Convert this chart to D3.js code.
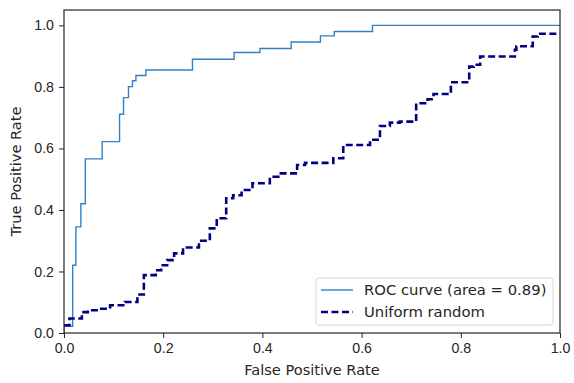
<!DOCTYPE html>
<html>
<head>
<meta charset="utf-8">
<script src="https://cdn.jsdelivr.net/npm/d3@7"></script>
<style>
  html, body { margin: 0; padding: 0; background: #fff; }
  svg { display: block; font-family: "DejaVu Sans", sans-serif; }
  .tick text { font-size: 14.2px; fill: #262626; }
  .tick line { stroke: #262626; }
</style>
</head>
<body>
<div id="chart"></div>
<script>
// ROC curve: fpr where the step happens, tpr after the step
const rocFpr = [0, 0, 0.0175, 0.024, 0.034, 0.043, 0.077, 0.112, 0.120, 0.130, 0.138, 0.145, 0.165, 0.259, 0.343, 0.395, 0.458, 0.517, 0.545, 0.622, 1.0];
const rocTpr = [0, 0.022, 0.22, 0.345, 0.42, 0.566, 0.622, 0.711, 0.765, 0.801, 0.820, 0.837, 0.855, 0.890, 0.912, 0.925, 0.946, 0.966, 0.980, 1.0, 1.0];

// uniform random scores
const randFpr = [0, 0.011, 0.036, 0.048, 0.072, 0.093, 0.123, 0.148, 0.161, 0.185, 0.196, 0.208, 0.222, 0.240, 0.272, 0.294, 0.308, 0.327, 0.341, 0.358, 0.380, 0.415, 0.432, 0.470, 0.486, 0.543, 0.563, 0.617, 0.637, 0.657, 0.677, 0.710, 0.733, 0.745, 0.780, 0.817, 0.826, 0.839, 0.909, 0.912, 0.945, 0.955, 1.0];
const randTpr = [0.025, 0.047, 0.068, 0.074, 0.079, 0.090, 0.101, 0.125, 0.188, 0.204, 0.220, 0.237, 0.259, 0.278, 0.300, 0.340, 0.373, 0.438, 0.448, 0.465, 0.487, 0.508, 0.519, 0.546, 0.553, 0.568, 0.611, 0.628, 0.673, 0.684, 0.687, 0.747, 0.760, 0.777, 0.815, 0.866, 0.872, 0.899, 0.921, 0.932, 0.964, 0.973, 0.973];

const xTicks = [0, 0.2, 0.4, 0.6, 0.8, 1.0];
const yTicks = [0, 0.2, 0.4, 0.6, 0.8, 1.0];
const seriesNames = ['ROC curve (area = 0.89)', 'Uniform random'];

const width = 574, height = 383;
const margin = { top: 10, right: 14, bottom: 50, left: 64 };

const svg = d3.select('#chart').append('svg')
  .attr('width', width)
  .attr('height', height);

const x = d3.scaleLinear().domain([0, 1]).range([margin.left, width - margin.right]);
const y = d3.scaleLinear().domain([0, 1.05]).range([height - margin.bottom, margin.top]);

const line = d3.line()
  .x(d => x(d[0]))
  .y(d => y(d[1]))
  .curve(d3.curveStepAfter);

const plotW = x(1) - x(0);
const plotH = y(0) - y(1.05);

svg.append('clipPath').attr('id', 'clip')
  .append('rect')
  .attr('x', x(0)).attr('y', y(1.05))
  .attr('width', plotW).attr('height', plotH);

const plot = svg.append('g').attr('clip-path', 'url(#clip)');

plot.append('path')
  .datum(d3.zip(rocFpr, rocTpr))
  .attr('fill', 'none')
  .attr('stroke', '#2f82c8')
  .attr('stroke-width', 1.4)
  .attr('d', line);

plot.append('path')
  .datum(d3.zip(randFpr, randTpr))
  .attr('fill', 'none')
  .attr('stroke', '#000080')
  .attr('stroke-width', 2.6)
  .attr('stroke-dasharray', '7,3.5')
  .attr('d', line);

// axes
const fmt = d3.format('.1f');
svg.append('g')
  .attr('transform', `translate(0,${y(0)})`)
  .call(d3.axisBottom(x).tickValues(xTicks).tickFormat(fmt).tickSize(5).tickPadding(5))
  .call(g => g.select('.domain').remove());

svg.append('g')
  .attr('transform', `translate(${x(0)},0)`)
  .call(d3.axisLeft(y).tickValues(yTicks).tickFormat(fmt).tickSize(5).tickPadding(5))
  .call(g => g.select('.domain').remove());

// frame
svg.append('rect')
  .attr('x', x(0)).attr('y', y(1.05))
  .attr('width', plotW).attr('height', plotH)
  .attr('fill', 'none')
  .attr('stroke', '#262626')
  .attr('stroke-width', 1.2);

// axis labels
svg.append('text')
  .attr('x', (x(0) + x(1)) / 2)
  .attr('y', 375)
  .attr('text-anchor', 'middle')
  .style('font-size', '14.6px')
  .style('fill', '#262626')
  .text('False Positive Rate');

svg.append('text')
  .attr('transform', `translate(21,${(y(0) + y(1.05)) / 2}) rotate(-90)`)
  .attr('text-anchor', 'middle')
  .style('font-size', '14.6px')
  .style('fill', '#262626')
  .text('True Positive Rate');

// legend
const legend = svg.append('g').attr('transform', 'translate(316,278)');
legend.append('rect')
  .attr('width', 237).attr('height', 47)
  .attr('rx', 3)
  .attr('fill', '#fff')
  .attr('fill-opacity', 0.8)
  .attr('stroke', '#d6d6d6');

const legendStyles = [
  { stroke: '#2f82c8', w: 1.4, dash: null },
  { stroke: '#000080', w: 2.6, dash: '7,3.5' }
];
seriesNames.forEach((name, i) => {
  const yy = 12 + i * 22;
  legend.append('line')
    .attr('x1', 5).attr('x2', 37)
    .attr('y1', yy).attr('y2', yy)
    .attr('stroke', legendStyles[i].stroke)
    .attr('stroke-width', legendStyles[i].w)
    .attr('stroke-dasharray', legendStyles[i].dash);
  legend.append('text')
    .attr('x', 48).attr('y', yy + 5)
    .style('font-size', '14.8px')
    .style('fill', '#262626')
    .text(name);
});
</script>
</body>
</html>
